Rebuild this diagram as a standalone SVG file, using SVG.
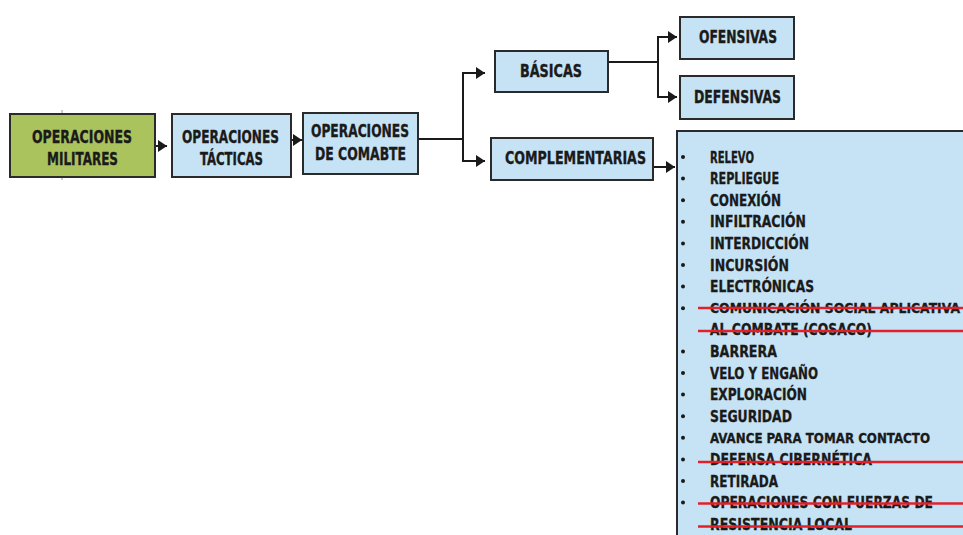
<svg xmlns="http://www.w3.org/2000/svg" width="963" height="535" viewBox="0 0 963 535">
<defs>
<marker id="ah" markerUnits="userSpaceOnUse" markerWidth="10" markerHeight="12" refX="9" refY="6" orient="auto">
<path d="M0,0 L9,6 L0,12 z" fill="#1a1a1a"/>
</marker>
<style>
.box{stroke:#2a2a2a;stroke-width:2}
.blue{fill:#c6e3f5}
.green{fill:#aac35c}
.t{font-family:"Liberation Sans Narrow","DejaVu Sans Condensed","Liberation Sans",Arial,sans-serif;font-stretch:condensed;font-weight:bold;font-size:17px;fill:#1a1a1a;stroke:#1a1a1a;stroke-width:0.35}
.l{font-family:"Liberation Sans Narrow","DejaVu Sans Condensed","Liberation Sans",Arial,sans-serif;font-stretch:condensed;font-weight:bold;font-size:15.5px;fill:#1a1a1a;stroke:#1a1a1a;stroke-width:0.3}
.s{font-size:13.5px}
.c{fill:none;stroke:#1a1a1a;stroke-width:2}
.strike{stroke:#e3202a;stroke-width:2.5}
.tick{stroke:#999;stroke-width:1}
</style>
</defs>
<rect width="963" height="535" fill="#ffffff"/>

<g id="connectors">
<path class="c" d="M156,146 H167" marker-end="url(#ah)"/>
<path class="c" d="M292,140 H302" marker-end="url(#ah)"/>
<path class="c" d="M418,139 H463"/>
<path class="c" d="M463,140 V73 H485" marker-end="url(#ah)"/>
<path class="c" d="M463,138 V161 H485" marker-end="url(#ah)"/>
<path class="c" d="M608,62 H658"/>
<path class="c" d="M658,63 V37 H677" marker-end="url(#ah)"/>
<path class="c" d="M658,61 V97 H677" marker-end="url(#ah)"/>
<path class="c" d="M653,167 H675" marker-end="url(#ah)"/>
</g>

<line class="tick" x1="62" y1="110" x2="62" y2="114"/>
<line class="tick" x1="62" y1="177" x2="62" y2="180"/>

<g id="n-militares">
<rect class="box green" x="10" y="114" width="145" height="63"/>
<text class="t" x="32" y="143" textLength="100" lengthAdjust="spacingAndGlyphs">OPERACIONES</text>
<text class="t" x="47" y="165" textLength="71" lengthAdjust="spacingAndGlyphs">MILITARES</text>
</g>

<g id="n-tacticas">
<rect class="box blue" x="172" y="114" width="119" height="63"/>
<text class="t" x="182" y="143" textLength="97" lengthAdjust="spacingAndGlyphs">OPERACIONES</text>
<text class="t" x="200" y="165" textLength="63" lengthAdjust="spacingAndGlyphs">TÁCTICAS</text>
</g>

<g id="n-combate">
<rect class="box blue" x="303" y="113" width="115" height="61"/>
<text class="t" x="311" y="137" textLength="98" lengthAdjust="spacingAndGlyphs">OPERACIONES</text>
<text class="t" x="315" y="160" textLength="91" lengthAdjust="spacingAndGlyphs">DE COMABTE</text>
</g>

<g id="n-basicas">
<rect class="box blue" x="495" y="51" width="113" height="41"/>
<text class="t" x="520" y="77" textLength="62" lengthAdjust="spacingAndGlyphs">BÁSICAS</text>
</g>

<g id="n-ofensivas">
<rect class="box blue" x="680" y="17" width="114" height="42"/>
<text class="t" x="699" y="43" textLength="78" lengthAdjust="spacingAndGlyphs">OFENSIVAS</text>
</g>

<g id="n-defensivas">
<rect class="box blue" x="680" y="76" width="114" height="43"/>
<text class="t" x="694" y="103" textLength="87" lengthAdjust="spacingAndGlyphs">DEFENSIVAS</text>
</g>

<g id="n-complementarias">
<rect class="box blue" x="491" y="138" width="162" height="42"/>
<text class="t" x="505" y="164" textLength="141" lengthAdjust="spacingAndGlyphs">COMPLEMENTARIAS</text>
</g>

<g id="n-lista">
<rect class="box blue" x="677" y="131" width="300" height="420"/>
<g fill="#1a1a1a">
<circle cx="683" cy="157" r="2"/>
<circle cx="683" cy="178.6" r="2"/>
<circle cx="683" cy="200.2" r="2"/>
<circle cx="683" cy="221.8" r="2"/>
<circle cx="683" cy="243.4" r="2"/>
<circle cx="683" cy="265" r="2"/>
<circle cx="683" cy="286.6" r="2"/>
<circle cx="683" cy="308.2" r="2"/>
<circle cx="683" cy="351.4" r="2"/>
<circle cx="683" cy="373" r="2"/>
<circle cx="683" cy="394.6" r="2"/>
<circle cx="683" cy="416.2" r="2"/>
<circle cx="683" cy="437.8" r="2"/>
<circle cx="683" cy="459.4" r="2"/>
<circle cx="683" cy="481" r="2"/>
<circle cx="683" cy="502.6" r="2"/>
</g>
<text class="l" x="710" y="162.5" textLength="44" lengthAdjust="spacingAndGlyphs">RELEVO</text>
<text class="l" x="710" y="184.1" textLength="69" lengthAdjust="spacingAndGlyphs">REPLIEGUE</text>
<text class="l" x="710" y="205.7" textLength="71" lengthAdjust="spacingAndGlyphs">CONEXIÓN</text>
<text class="l" x="710" y="227.3" textLength="96" lengthAdjust="spacingAndGlyphs">INFILTRACIÓN</text>
<text class="l" x="710" y="248.9" textLength="99" lengthAdjust="spacingAndGlyphs">INTERDICCIÓN</text>
<text class="l" x="710" y="270.5" textLength="79" lengthAdjust="spacingAndGlyphs">INCURSIÓN</text>
<text class="l" x="710" y="292.1" textLength="104" lengthAdjust="spacingAndGlyphs">ELECTRÓNICAS</text>
<text class="l s" x="710" y="313.4" textLength="250" lengthAdjust="spacingAndGlyphs">COMUNICACIÓN SOCIAL APLICATIVA</text>
<text class="l" x="710" y="335.3" textLength="162" lengthAdjust="spacingAndGlyphs">AL COMBATE (COSACO)</text>
<text class="l" x="710" y="356.9" textLength="67" lengthAdjust="spacingAndGlyphs">BARRERA</text>
<text class="l" x="710" y="378.5" textLength="108" lengthAdjust="spacingAndGlyphs">VELO Y ENGAÑO</text>
<text class="l" x="710" y="400.1" textLength="97" lengthAdjust="spacingAndGlyphs">EXPLORACIÓN</text>
<text class="l" x="710" y="421.7" textLength="82" lengthAdjust="spacingAndGlyphs">SEGURIDAD</text>
<text class="l s" x="710" y="443" textLength="220" lengthAdjust="spacingAndGlyphs">AVANCE PARA TOMAR CONTACTO</text>
<text class="l" x="710" y="464.9" textLength="162" lengthAdjust="spacingAndGlyphs">DEFENSA CIBERNÉTICA</text>
<text class="l" x="710" y="486.5" textLength="68" lengthAdjust="spacingAndGlyphs">RETIRADA</text>
<text class="l" x="710" y="508.1" textLength="223" lengthAdjust="spacingAndGlyphs">OPERACIONES CON FUERZAS DE</text>
<text class="l" x="710" y="529.7" textLength="142" lengthAdjust="spacingAndGlyphs">RESISTENCIA LOCAL</text>
<line class="strike" x1="698" y1="308" x2="963" y2="308"/>
<line class="strike" x1="698" y1="331" x2="963" y2="331"/>
<line class="strike" x1="698" y1="462" x2="963" y2="462"/>
<line class="strike" x1="698" y1="503.5" x2="963" y2="503.5"/>
<line class="strike" x1="698" y1="526.5" x2="963" y2="526.5"/>
</g>
</svg>
